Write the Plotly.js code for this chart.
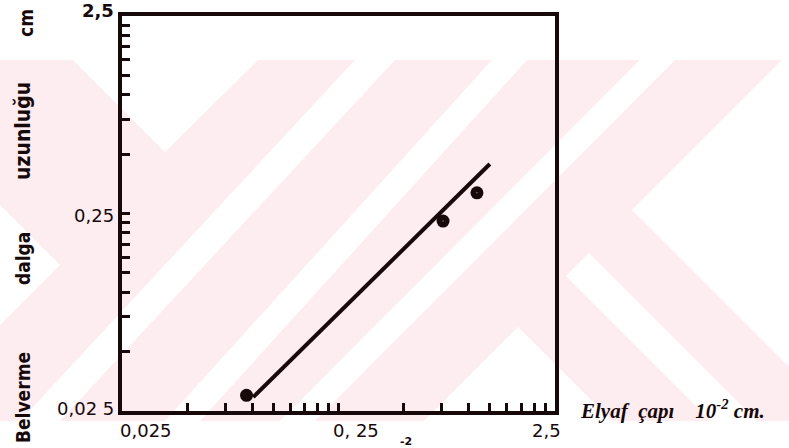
<!DOCTYPE html>
<html><head><meta charset="utf-8">
<script src="https://cdn.plot.ly/plotly-3.0.1.min.js"></script>
<style>html,body{margin:0;padding:0;background:#fff}#chart{width:789px;height:448px}</style>
</head><body><div id="chart"></div>
<script>
// ---- data ----
const pointX = [0.094, 0.76, 1.09];
const pointY = [0.030, 0.229, 0.318];
const fitX = [0.101, 1.25];
const fitY = [0.0294, 0.445];
const xMinorTicks = [0.025,0.05,0.075,0.1,0.125,0.15,0.175,0.2,0.225,0.25,0.5,0.75,1,1.25,1.5,1.75,2,2.25,2.5];
const yMinorTicks = [0.025,0.05,0.075,0.1,0.125,0.15,0.175,0.2,0.225,0.25,0.5,0.75,1,1.25,1.5,1.75,2,2.25,2.5];
const xLabelVals = [0.025, 0.25, 2.5];
const xLabelText = ['0,025', '0, 25', '2,5'];
const yLabelVals = [0.025, 0.25, 2.5];
const yLabelText = ['0,02 5', '0,25', '2,5'];
const yTitleWords = ['Belverme', 'dalga', 'uzunluğu', 'cm'];
const xTitleText = 'Elyaf\u00A0\u00A0çapı\u00A0\u00A0\u00A0\u00A010<sup>-2</sup>\u00A0cm.';
const strayText = '-2';

// ---- layout / style ----
const W = 789, H = 448;
const M = {l: 122, r: 234, t: 16, b: 37};
const pw = W - M.l - M.r, ph = H - M.t - M.b;
const px = x => (x - M.l) / pw;
const py = y => (H - M.b - y) / ph;
const ink = '#170809';
const pink = 'rgb(253,237,240)';
const baseFont = 'DejaVu Sans, sans-serif';
const condFont = 'DejaVu Sans Condensed, DejaVu Sans, sans-serif';

// decorative watermark (pixel polygons)
const pinkBand = [[0,60],[789,60],[789,421],[0,421]];
const whitePolys = [
  [[0,205],[60,265],[0,325]],
  [[73,60],[258,60],[165,152]],
  [[355,60],[395,60],[60,421],[20,421]],
  [[492,60],[527,60],[200,421],[165,421]],
  [[640,60],[675,60],[315,421],[280,421]],
  [[782,60],[789,60],[789,367],[632,210]],
  [[589,253],[757,421],[711,421],[566,276]],
  [[518,327],[612,421],[424,421]]
];
const polyPath = pts => 'M' + pts.map(p => px(p[0]).toFixed(4) + ',' + py(p[1]).toFixed(4)).join('L') + 'Z';
const shapes = [{type:'path', xref:'paper', yref:'paper', path: polyPath(pinkBand), fillcolor: pink, line:{width:0}, layer:'below'}]
  .concat(whitePolys.map(p => ({type:'path', xref:'paper', yref:'paper', path: polyPath(p), fillcolor:'#ffffff', line:{width:0}, layer:'below'})));

const annotations = [];
const xLabelStyle = [{anchor:'left', shift:-4}, {anchor:'center', shift:17}, {anchor:'center', shift:-9}];
xLabelVals.forEach((v, i) => annotations.push({
  xref:'x', yref:'paper', x: Math.log10(v), y: 0, yshift: -19, xshift: xLabelStyle[i].shift,
  xanchor: xLabelStyle[i].anchor, yanchor:'middle', showarrow:false, text: xLabelText[i],
  font:{family: baseFont, size:18, color: ink}
}));
const yLabelStyle = [{shift:3, bold:false}, {shift:-2, bold:false}, {shift:6, bold:true}];
yLabelVals.forEach((v, i) => annotations.push({
  xref:'paper', yref:'y', x: 0, y: Math.log10(v), xshift: -6, yshift: yLabelStyle[i].shift,
  xanchor:'right', yanchor:'middle', showarrow:false,
  text: yLabelStyle[i].bold ? '<b>' + yLabelText[i] + '</b>' : yLabelText[i],
  font:{family: baseFont, size:18, color: ink}
}));
const yTitlePos = [[23,398],[23,259],[23,131],[26,23]];
yTitleWords.forEach((w, i) => annotations.push({
  xref:'paper', yref:'paper', x: px(yTitlePos[i][0]), y: py(yTitlePos[i][1]),
  xanchor:'center', yanchor:'middle', textangle:-90, showarrow:false,
  text:'<b>' + w + '</b>', font:{family: condFont, size: i === 2 ? 21 : 19, color: ink}
}));
annotations.push({
  xref:'paper', yref:'paper', x: px(578), y: py(409), xanchor:'left', yanchor:'middle',
  showarrow:false, text:'<b><i>' + xTitleText + '</i></b>',
  font:{family:'Liberation Serif, serif', size:21, color: ink}
});
annotations.push({
  xref:'paper', yref:'paper', x: px(406), y: py(441), xanchor:'center', yanchor:'middle',
  showarrow:false, text:'<b>' + strayText + '</b>', font:{family: baseFont, size:11, color: ink}
});

const axisCommon = {
  type:'log', showgrid:false, zeroline:false, showline:true, mirror:true,
  linecolor: ink, linewidth:4, ticks:'inside', tickcolor: ink, tickwidth:3, ticklen:8,
  tickmode:'array', showticklabels:false, fixedrange:true
};

const traces = [
  {x: fitX, y: fitY, type:'scatter', mode:'lines', line:{color: ink, width:4}, hoverinfo:'skip'},
  {x: pointX, y: pointY, type:'scatter', mode:'markers', marker:{color: ink, size:13, line:{width:0}}, hoverinfo:'skip'},
  {x: pointX.slice(1), y: pointY.slice(1), type:'scatter', mode:'markers', marker:{color:'#ffffff', size:1, line:{width:0}}, hoverinfo:'skip'}
];

const layout = {
  width: W, height: H, margin: M,
  paper_bgcolor:'#ffffff', plot_bgcolor:'rgba(0,0,0,0)',
  showlegend:false,
  xaxis: Object.assign({}, axisCommon, {range:[Math.log10(0.025), Math.log10(2.5)], tickvals: xMinorTicks}),
  yaxis: Object.assign({}, axisCommon, {range:[Math.log10(0.025), Math.log10(2.5)], tickvals: yMinorTicks}),
  shapes: shapes,
  annotations: annotations
};

Plotly.newPlot('chart', traces, layout, {staticPlot:true, displayModeBar:false});
</script>
</body></html>
